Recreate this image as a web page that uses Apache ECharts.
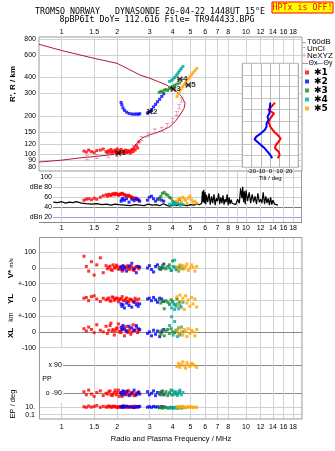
<!DOCTYPE html>
<html><head><meta charset="utf-8">
<script src="https://cdn.jsdelivr.net/npm/echarts@6/dist/echarts.min.js"></script>
<style>html,body{margin:0;padding:0;background:#fff}#c{width:335px;height:451px}</style>
</head><body><div id="c"></div>
<script>
// ---------- tick labels ----------
const freqTicks = [1, 1.5, 2, 3, 4, 5, 6, 7, 8, 10, 12, 14, 16, 18];
const freqTicksMid = [1, 1.5, 2, 3, 4, 5, 6, 7, 8, 9, 10, 12, 14, 16, 18];
const heightTicks = [80, 90, 100, 120, 150, 200, 300, 400, 600, 800];
const dbTicks = [20, 40, 60, 80, 100];
const tiltTicks = [-20, -10, 0, 10, 20];

// ---------- plasma profile (Ne) ----------
const profileFreq = [0.753, 1.0, 1.5, 2.0, 2.66, 3.0, 3.71, 4.21, 4.48, 4.67, 4.61, 4.38, 4.12, 3.87, 3.56, 3.2, 2.95, 2.71, 2.55, 2.45, 2.35, 2.07, 1.83, 1.5, 1.28, 1.0, 0.753];
const profileHeight = [728, 650, 565, 516, 418, 395, 349, 309, 283, 251, 229, 203, 180, 165, 155, 146, 141, 133, 122, 113, 104, 102, 99, 96, 94, 90, 87];
const neFreq = [1.37, 1.55, 1.79, 2.0, 2.35, 2.45, 2.71, 2.95, 3.2, 3.49, 3.74, 4.0, 4.21, 4.34, 4.48];
const neHeight = [94, 96, 97.5, 100, 103, 113, 133, 142, 152, 157, 168, 185, 209, 236, 266];

// ---------- trace markers ----------
const markFreq = [2.03, 3.01, 4.03, 4.38, 4.86];
const markHeight = [102, 216, 325, 387, 349];
const markLabel = ['1', '2', '3', '4', '5'];

// ---------- echo traces ----------
const e1Freq = [1.32,1.36,1.40,1.45,1.50,1.55,1.62,1.68,1.74,1.80,1.85,1.90,1.95,2.00,2.05,2.10,2.16,2.22,2.28,2.34,2.40,2.47,2.54,2.62,
  1.77,1.83,1.88,1.93,1.98,2.03,2.08,2.13,2.19,2.25,2.31,2.37,2.44,2.50,2.58];
const e1Height = [106,104,108,105,103,107,108,110,105,107,109,106,108,110,107,109,106,108,107,106,109,112,117,125,
  103,104,103,105,104,103,104,103,104,103,104,103,105,108,112];
const e1Db = [54,56,57,55,58,56,60,63,65,66,64,67,68,66,65,67,66,64,63,62,60,58,56,54,
  62,64,66,65,67,64,66,68,65,63,64,61,59,57,55];
const e1V = [75,10,-20,40,-45,20,65,-30,15,5,-10,20,0,10,-5,8,-12,4,15,-8,5,-15,10,-5,
  -5,12,-15,3,18,-8,6,-20,10,0,-6,14,-12,2,8];
const e1YL = [10,15,-5,20,25,5,-10,10,0,12,-8,15,5,10,0,8,-5,3,-10,5,-2,-12,0,5,
  5,-6,18,-3,10,-12,6,20,-4,12,-15,2,-8,10,-20];
const e1XL = [20,5,30,15,-5,45,10,0,35,10,55,15,5,25,5,0,30,10,-5,20,0,10,30,5,
  -10,40,5,-20,20,50,-5,15,-25,35,5,-15,45,10,-5];
const e1PP = [-80,-100,-70,-95,-110,-85,-75,-105,-90,-80,-100,-95,-70,-85,-110,-90,-80,-100,-75,-95,-85,-105,-90,-80,
  -95,-75,-105,-85,-100,-70,-90,-110,-80,-95,-75,-100,-85,-105,-90];
const e1EP = [12,8,18,9,14,25,8,15,10,20,9,16,11,8,13,10,22,9,14,11,10,17,9,12,
  10,13,9,15,11,8,12,10,14,9,11,13,8,10,12];

const e2Freq = [2.10,2.12,2.15,2.19,2.25,2.32,2.40,2.47,2.54,2.60,2.65,2.92,2.99,3.07,3.15,3.23,3.31,3.40,3.49,3.58];
const e2Height = [255,244,231,221,214,209,207,206,207,206,208,210,215,224,235,246,258,270,284,298];
const e2Db = [52,55,58,54,57,50,56,53,58,55,52,54,60,62,57,52,56,58,54,52];
const e2V = [5,-10,15,0,-20,10,30,-5,-30,10,5,0,15,-10,-25,10,20,-5,0,25];
const e2YL = [-25,-40,-30,-50,-20,-35,-45,-15,-30,-40,-25,5,10,-5,15,0,-15,10,5,-10];
const e2XL = [30,15,40,20,5,35,25,10,40,20,15,-10,0,-25,10,-15,5,-30,0,15];
const e2PP = [-85,-100,-75,-95,-80,-105,-90,-70,-100,-85,-95,-80,-100,-90,-75,-105,-85,-95,-80,-100];
const e2EP = [10,14,8,12,16,9,11,7,13,10,15,9,12,8,14,10,11,9,13,10];

const e3Freq = [3.38,3.45,3.52,3.60,3.68,3.76,3.84,3.92,4.00,4.10,4.22,4.36];
const e3Height = [305,312,308,318,322,316,328,335,340,348,355,362];
const e3Db = [55,62,68,70,66,64,60,58,52,50,48,55];
const e3V = [5,-10,15,0,-5,10,20,-15,45,5,-10,0];
const e3YL = [0,-20,-10,-55,-5,-15,-25,0,-10,-30,5,-15];
const e3XL = [0,-15,10,-25,5,15,-10,20,0,-5,10,-20];
const e3PP = [-85,-100,-75,-95,-80,-105,-90,-70,-100,-85,-95,-80];
const e3EP = [6,8,5,7,9,5,6,8,5,7,6,9];

const e4Freq = [3.85,3.95,4.02,4.10,4.17,4.24,4.31,4.38,4.46,4.55];
const e4Height = [372,380,388,400,412,425,440,455,470,488];
const e4Db = [46,44,48,45,47,50,46,44,48,45];
const e4V = [0,-15,10,50,-10,5,-20,15,0,-5];
const e4YL = [-30,-50,-20,-60,-40,-25,-55,-35,-45,-15];
const e4XL = [40,95,-20,65,10,-30,25,-10,30,0];
const e4PP = [-85,-100,-75,-95,-80,-105,-90,-70,-100,-85];
const e4EP = [6,8,5,7,9,5,6,8,5,7];

const e5Freq = [4.22,4.30,4.38,4.46,4.54,4.62,4.70,4.78,4.86,4.96,5.06,5.16,5.28,5.40];
const e5Height = [283,298,312,328,340,352,365,380,392,406,420,436,452,470];
const e5Db = [52,55,58,50,60,56,54,48,58,62,55,50,52,48];
const e5V = [5,-10,20,0,15,-5,10,25,-15,0,20,5,-20,10];
const e5YL = [20,-30,30,-10,10,-60,25,-20,0,-40,15,-25,5,-45];
const e5XL = [10,-15,25,0,-20,15,5,-30,20,-10,10,0,-25,15];
const e5PP = [80,100,75,95,110,85,70,105,90,80,100,95,85,75];
const e5EP = [8,12,7,10,14,9,6,11,8,13,9,7,10,8];

// ---------- noise amplitude trace ----------
const noiseFreq = [0.90,0.95,1.00,1.05,1.10,1.15,1.20,1.28,1.36,1.45,1.55,1.65,1.75,1.85,1.95,2.05,2.2,2.35,2.5,2.65,2.8,2.95,3.1,3.25,3.4,3.55,3.7,3.85,4.0,4.2,4.4,4.6,4.8,5.0,5.2,5.4,5.6,
 5.75,5.8,5.85,5.9,5.95,6.0,6.05,6.1,6.2,6.3,6.4,6.5,6.6,6.7,6.8,6.9,7.0,7.1,7.2,7.3,7.4,7.5,7.6,7.7,7.8,7.9,8.0,8.1,8.2,8.3,8.4,8.6,8.8,9.0,9.2,9.35,9.5,9.6,9.7,9.8,9.9,10.0,10.2,10.4,10.6,10.8,11.0,11.2,11.4,11.6,11.8,12.0,12.2,12.4,12.6,12.8,13.0,13.2,13.4,13.6,13.8,14.0,14.3,14.6,14.9];
const noiseDb = [50,49,51,48,50,49,51,48,47,46,47,45,46,44,46,45,44,43,45,44,43,46,44,45,43,47,44,42,45,43,46,44,43,45,44,46,45,
 48,72,50,75,48,70,46,65,50,68,45,62,48,66,44,58,52,68,46,60,48,64,45,56,50,66,44,60,46,55,48,52,45,56,48,78,58,81,50,72,46,74,52,70,48,66,50,62,46,68,50,56,48,70,46,62,48,58,44,60,45,54,46,44,44];

// ---------- tilt inset ----------
const tiltXLevel = [5.59,5.45,4.96,4.67,4.24,3.95,3.51,3.08,2.79,2.50,2.22,1.93,1.64,1.35,1.06,0.78];
const tiltX = [5,3,-2,4,0,-2,0,4,8,11,9,6,5,9,10,8];
const tiltYLevel = [5.59,4.67,4.38,4.09,3.80,3.51,3.23,2.94,2.65,2.42,2.22,1.93,1.64,1.35,1.06,0.78];
const tiltY = [0,-1,-3,-2,-4,-4,-6,-10,-15,-17,-14,-10,-6,-3,0,2];

// ================= chart =================
const SANS = 'Liberation Sans, Arial, sans-serif';
const MONO = 'DejaVu Sans Mono, Liberation Mono, monospace';
const LIGHT = '#d2d2d2';
const DARK = '#8a8a8a';
const FMAX = 20.13;
const zip = (a, b) => a.map((v, i) => [v, b[i]]);
const fmtNum = v => String(+(+v).toPrecision(4));

const echoes = [
  {name: '✱1', color: '#ff0000', f: e1Freq, h: e1Height, db: e1Db, v: e1V, yl: e1YL, xl: e1XL, pp: e1PP, ep: e1EP},
  {name: '✱2', color: '#0000ff', f: e2Freq, h: e2Height, db: e2Db, v: e2V, yl: e2YL, xl: e2XL, pp: e2PP, ep: e2EP},
  {name: '✱3', color: '#1f8a1f', f: e3Freq, h: e3Height, db: e3Db, v: e3V, yl: e3YL, xl: e3XL, pp: e3PP, ep: e3EP},
  {name: '✱4', color: '#00a8a8', f: e4Freq, h: e4Height, db: e4Db, v: e4V, yl: e4YL, xl: e4XL, pp: e4PP, ep: e4EP},
  {name: '✱5', color: '#ffa500', f: e5Freq, h: e5Height, db: e5Db, v: e5V, yl: e5YL, xl: e5XL, pp: e5PP, ep: e5EP}
];

function freqAxis(grid, min, labels, position, ticks) {
  const t = ticks || freqTicks;
  return {
    type: 'log', logBase: 10, gridIndex: grid, min: min, max: FMAX, position: position || 'bottom',
    axisLine: {show: false}, axisTick: {show: false, customValues: t},
    axisLabel: {show: !!labels, customValues: t, fontSize: 7, fontFamily: SANS, color: '#000',
      margin: position === 'top' ? 1 : 3, formatter: fmtNum, hideOverlap: false},
    splitLine: {show: true, lineStyle: {color: LIGHT, width: 1}}
  };
}
function valAxis(grid, min, max, ticks, map, margin, splitColor, type, labelTicks) {
  return {
    type: type || 'value', gridIndex: grid, min: min, max: max,
    axisLine: {show: false}, axisTick: {show: false, customValues: ticks},
    axisLabel: {show: true, customValues: labelTicks || ticks, fontSize: 7, fontFamily: SANS, color: '#000', margin: margin,
      hideOverlap: false,
      formatter: v => { const k = fmtNum(v); return (map && map[k] !== undefined) ? map[k] : k; }},
    splitLine: {show: true, lineStyle: {color: splitColor || LIGHT, width: 1}}
  };
}

const grids = [
  {left: 39, right: 33, top: 37, height: 134, show: true, borderColor: '#999', borderWidth: 1},
  {left: 53, right: 33, top: 171, height: 51},
  {left: 39, right: 33, top: 237, height: 46.7},
  {left: 39, right: 33, top: 283.7, height: 32.3},
  {left: 39, right: 33, top: 316, height: 31.7},
  {left: 63.3, right: 33, top: 347.7, height: 55.3},
  {left: 39, right: 33, top: 403, height: 16},
  {left: 242.3, width: 56, top: 63.3, height: 104, show: true, backgroundColor: '#fff', borderColor: '#999', borderWidth: 1, z: 3}
].map(g => Object.assign({outerBoundsMode: 'none', containLabel: false}, g));

const xAxes = [
  freqAxis(0, 0.753, true, 'top'),
  freqAxis(1, 0.897, true, 'bottom', freqTicksMid),
  freqAxis(2, 0.753, false),
  freqAxis(3, 0.753, false),
  Object.assign(freqAxis(4, 0.753, false), {axisLine: {show: true, lineStyle: {color: DARK, width: 1}}}),
  freqAxis(5, 1.0202, false),
  freqAxis(6, 0.753, true, 'bottom'),
  {type: 'value', gridIndex: 7, min: -30, max: 30, z: 4,
   axisLine: {show: false}, axisTick: {show: false, customValues: tiltTicks},
   axisLabel: {show: true, customValues: tiltTicks, fontSize: 6, fontFamily: SANS, color: '#000', margin: 1, hideOverlap: false},
   splitLine: {show: true, lineStyle: {color: '#b8b8b8'}},
   name: 'Tilt / deg', nameLocation: 'middle', nameGap: 8, nameTextStyle: {fontSize: 6, fontFamily: SANS, color: '#000'}}
];
xAxes[6].axisLabel.margin = 5;

// main height axis: gridlines at all heights; labels spread over three axes so the close low labels all show
const mainY = valAxis(0, 74, 830, heightTicks, null, 3, LIGHT, 'log', [80, 120, 200, 400, 800]);
const mainYB = valAxis(0, 74, 830, [90, 150, 300, 600], null, 3, LIGHT, 'log');
const mainYC = valAxis(0, 74, 830, [100], null, 3, LIGHT, 'log');
mainYB.splitLine = {show: false};
mainYC.splitLine = {show: false};

const yAxes = [
  mainY,
  Object.assign(valAxis(1, 10, 113, dbTicks, {'80': 'dBe 80', '20': 'dBn 20'}, 1), {
    splitLine: {show: true, lineStyle: {color: ['#a0a0e8', '#7a7a7a', '#cccccc', '#cccccc', '#dddddd'], width: 1}}}),
  valAxis(2, -100, 197.5, [0, 100], null, 3),
  valAxis(3, -100, 100, [0, 100], {'100': '+-100'}, 3),
  valAxis(4, -100, 100, [-100, 0, 100], {'100': '+-100'}, 3),
  valAxis(5, -152, 200, [-90, 90], {'90': 'x 90', '-90': 'o -90'}, 1.5, DARK),
  valAxis(6, 0.0076, 109, [0.1, 10], {'10': '10.', '0.1': '0.1'}, 4, LIGHT, 'log'),
  {type: 'value', gridIndex: 7, min: 0, max: 9, interval: 1, z: 4,
   axisLine: {show: false}, axisTick: {show: false}, axisLabel: {show: false},
   splitLine: {show: true, lineStyle: {color: '#c4c4c4'}}},
  Object.assign(mainYB, {position: 'left', offset: 0}),
  Object.assign(mainYC, {position: 'left', offset: 0})
];

const series = [];
series.push({type: 'line', name: 'profile', xAxisIndex: 0, yAxisIndex: 0, data: zip(profileFreq, profileHeight),
  showSymbol: false, symbol: 'none', lineStyle: {color: '#b3173f', width: 1}, z: 2, silent: true});
series.push({type: 'scatter', name: 'NeXYZ', xAxisIndex: 0, yAxisIndex: 0, data: zip(neFreq, neHeight),
  symbol: 'path://M0,0L5,0L5,1L3,1L3,5L5,5L5,6L0,6L0,5L2,5L2,1L0,1Z', symbolSize: [4, 5],
  itemStyle: {color: '#e0789c'}, z: 2});
series.push({type: 'line', name: 'T60dB', xAxisIndex: 1, yAxisIndex: 1, data: zip(noiseFreq, noiseDb),
  showSymbol: false, symbol: 'none', lineStyle: {color: '#000', width: 1.2}, z: 2});

const panels = [['h', 0], ['db', 1], ['v', 2], ['yl', 3], ['xl', 4], ['pp', 5], ['ep', 6]];
echoes.forEach(e => panels.forEach(([k, g]) => series.push({
  type: 'scatter', name: e.name, xAxisIndex: g, yAxisIndex: g, symbol: 'rect', symbolSize: 3,
  itemStyle: {color: e.color}, data: zip(e.f, e[k]), z: 3
})));

series.push({type: 'scatter', name: 'marks', xAxisIndex: 0, yAxisIndex: 0,
  data: markFreq.map((f, i) => ({value: [f, markHeight[i]], label: {formatter: markLabel[i]}})),
  symbol: 'path://M0,1L1,0L6,5L5,6Z M5,0L6,1L1,6L0,5Z M0,2.5L6,2.5L6,3.5L0,3.5Z', symbolSize: 6,
  itemStyle: {color: '#000'},
  label: {show: true, position: 'right', distance: 0, fontSize: 8, fontWeight: 'bold', fontFamily: SANS, color: '#000'}, z: 6});

series.push({type: 'line', name: 'Θx', xAxisIndex: 7, yAxisIndex: 7, data: zip(tiltX, tiltXLevel),
  symbol: 'none', lineStyle: {color: '#ff0000', width: 2}, z: 5});
series.push({type: 'line', name: 'Θy', xAxisIndex: 7, yAxisIndex: 7, data: zip(tiltY, tiltYLevel),
  symbol: 'none', lineStyle: {color: '#0000ff', width: 2}, z: 5});

function txt(x, y, text, size, opts) {
  return Object.assign({type: 'text', x: x, y: y, silent: true, z: 10,
    style: Object.assign({text: text, fontSize: size, fontFamily: SANS, fill: '#000', align: 'center', verticalAlign: 'middle'}, (opts && opts.style) || {})},
    opts && opts.el || {});
}
const R90 = Math.PI / 2;
const graphic = [
  txt(150, 12, 'TROMSO NORWAY   DYNASONDE 26-04-22 1448UT 15°E', 8.3, {style: {fontFamily: MONO}}),
  txt(157, 20, '8pBP6It DoY= 112.616 File= TR944433.BPG', 8.3, {style: {fontFamily: MONO}}),
  {type: 'rect', shape: {x: 272, y: 2, width: 61, height: 11}, style: {fill: '#ffff00', stroke: '#ff0000', lineWidth: 1}, z: 9, silent: true},
  txt(302.5, 7.5, 'HPTx is OFF!', 8.3, {style: {fontFamily: MONO, fill: '#ff0000'}}),
  // left titles
  txt(13, 84, "R', R / km", 8, {style: {fontWeight: 'bold'}, el: {rotation: R90}}),
  txt(11, 274, 'V*', 8, {style: {fontWeight: 'bold'}, el: {rotation: R90}}),
  txt(11, 263, 'm/s', 6, {el: {rotation: R90}}),
  txt(11, 299, 'YL', 8, {style: {fontWeight: 'bold'}, el: {rotation: R90}}),
  txt(11, 317, 'km', 7, {el: {rotation: R90}}),
  txt(11, 333, 'XL', 8, {style: {fontWeight: 'bold'}, el: {rotation: R90}}),
  txt(13, 404, 'EP / deg', 7.5, {el: {rotation: R90}}),
  txt(47, 379, 'PP', 7, {style: {align: 'center'}}),
  txt(171, 439, 'Radio and Plasma Frequency / MHz', 7.5),
  // frames
  {type: 'rect', shape: {x: 39.5, y: 237.5, width: 262.5, height: 181.5}, style: {fill: 'none', stroke: '#999', lineWidth: 1}, z: 8, silent: true},
  {type: 'line', shape: {x1: 39, y1: 222.5, x2: 302, y2: 222.5}, style: {stroke: '#888', lineWidth: 1}, z: 8, silent: true},
  {type: 'line', shape: {x1: 301.5, y1: 171, x2: 301.5, y2: 222.5}, style: {stroke: '#999', lineWidth: 1}, z: 8, silent: true},
  // right key
  {type: 'line', shape: {x1: 302, y1: 42.5, x2: 306, y2: 42.5}, style: {stroke: '#aaa', lineWidth: 1}, z: 8, silent: true},
  txt(307, 42, 'T60dB', 8, {style: {align: 'left'}}),
  txt(304, 48, '·', 8),
  txt(307, 49, 'UnCl', 8, {style: {align: 'left'}}),
  txt(304, 56, '+', 8, {style: {fill: '#e0789c'}}),
  txt(307, 56, 'NeXYZ', 8, {style: {align: 'left'}}),
  {type: 'line', shape: {x1: 302, y1: 63.5, x2: 308, y2: 63.5}, style: {stroke: '#e0789c', lineWidth: 1}, z: 8, silent: true},
  txt(308.5, 63, 'Θx', 7, {style: {align: 'left'}}),
  {type: 'line', shape: {x1: 316, y1: 63.5, x2: 323, y2: 63.5}, style: {stroke: '#8c8cff', lineWidth: 1}, z: 8, silent: true},
  txt(323.5, 63, 'Θy', 7, {style: {align: 'left'}})
];

const chart = echarts.init(document.getElementById('c'), null, {renderer: 'canvas'});
chart.setOption({
  animation: false,
  backgroundColor: '#fff',
  grid: grids,
  xAxis: xAxes,
  yAxis: yAxes,
  legend: {data: echoes.map(e => e.name), orient: 'vertical', left: 305, top: 68, itemWidth: 4, itemHeight: 4,
    itemGap: 0, icon: 'rect', padding: 0, selectedMode: false,
    textStyle: {fontSize: 9, fontWeight: 'bold', fontFamily: 'DejaVu Sans, sans-serif', color: '#000', lineHeight: 8, padding: 0}},
  graphic: graphic,
  series: series
});
</script></body></html>
